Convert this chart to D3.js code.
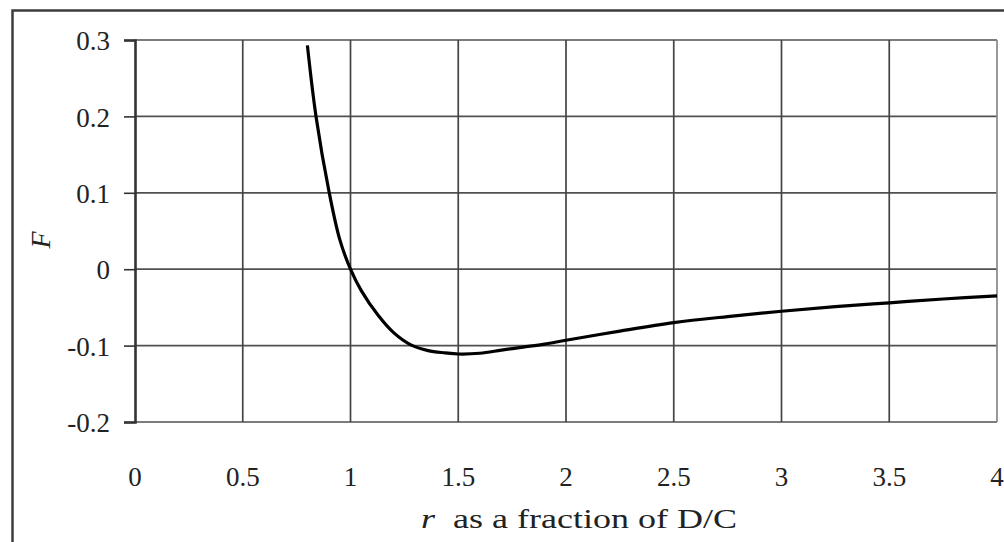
<!DOCTYPE html>
<html>
<head>
<meta charset="utf-8">
<script src="https://cdn.jsdelivr.net/npm/d3@7"></script>
<style>
  body { margin: 0; background: #fff; }
  svg { display: block; }
  text { font-family: "Liberation Serif", "Times New Roman", serif; fill: #222; }
</style>
</head>
<body>
<div id="chart"></div>
<script>
// Curve (r as a fraction of D/C, F)
const rValues = [0.8, 0.84, 0.9, 0.95, 1.0, 1.05, 1.13, 1.2, 1.28, 1.36, 1.44, 1.5, 1.6, 1.7, 1.8, 1.9, 2.0, 2.25, 2.5, 2.75, 3.0, 3.25, 3.5, 3.75, 4.0];
const fValues = [0.293, 0.2, 0.102, 0.039, 0, -0.028, -0.061, -0.083, -0.099, -0.1065, -0.1095, -0.111, -0.110, -0.106, -0.102, -0.098, -0.093, -0.081, -0.070, -0.062, -0.055, -0.049, -0.044, -0.039, -0.035];

const xTicks = [0, 0.5, 1, 1.5, 2, 2.5, 3, 3.5, 4];
const yTicks = [-0.2, -0.1, 0, 0.1, 0.2, 0.3];

const W = 1004, H = 542;
const PLOT_L = 135, PLOT_R = 997, PLOT_T = 40, PLOT_B = 422;

const svg = d3.select('#chart').append('svg')
  .attr('width', W).attr('height', H);

// Outer frame (cut off at the right and bottom)
svg.append('rect')
  .attr('x', 12.5).attr('y', 10.5)
  .attr('width', 1010).attr('height', 550)
  .attr('fill', 'none')
  .attr('stroke', '#3c3c3c')
  .attr('stroke-width', 2.5);

const x = d3.scaleLinear().domain([0, 4]).range([PLOT_L, PLOT_R]);
const y = d3.scaleLinear().domain([-0.2, 0.3]).range([PLOT_B, PLOT_T]);

// Gridlines
const grid = svg.append('g').attr('class', 'grid');
grid.selectAll('line.h').data(yTicks).enter().append('line')
  .attr('class', 'h')
  .attr('x1', PLOT_L).attr('x2', PLOT_R)
  .attr('y1', d => y(d)).attr('y2', d => y(d))
  .attr('stroke', '#505050').attr('stroke-width', 1.7);

grid.selectAll('line.v').data(xTicks.filter(d => d > 0)).enter().append('line')
  .attr('class', 'v')
  .attr('x1', d => x(d)).attr('x2', d => x(d))
  .attr('y1', PLOT_T).attr('y2', PLOT_B)
  .attr('stroke', d => d === 4 ? '#888' : '#444')
  .attr('stroke-width', 1.7);

// Left axis with outward ticks
svg.append('g')
  .attr('transform', `translate(${PLOT_L},0)`)
  .call(d3.axisLeft(y).tickValues(yTicks).tickSize(11).tickPadding(14)
    .tickFormat(d => d3.format('.1f')(d).replace('.0', '').replace('−', '-')))
  .call(g => g.select('.domain').attr('stroke', '#333').attr('stroke-width', 2.6))
  .call(g => g.selectAll('.tick line').attr('stroke', '#333').attr('stroke-width', 1.6))
  .call(g => g.selectAll('.tick text')
    .attr('font-size', 27)
    .attr('font-family', '"Liberation Serif", serif')
    .attr('fill', '#222')
    .attr('dy', '0.36em'));

// X tick labels below the plot
svg.append('g').selectAll('text').data(xTicks).enter().append('text')
  .attr('x', d => x(d))
  .attr('y', 486)
  .attr('text-anchor', 'middle')
  .attr('font-size', 27)
  .text(d => d);

// Curve
const line = d3.line()
  .x((d, i) => x(rValues[i]))
  .y(d => y(d))
  .curve(d3.curveCatmullRom.alpha(0.5));

svg.append('path')
  .datum(fValues)
  .attr('d', line)
  .attr('fill', 'none')
  .attr('stroke', '#000')
  .attr('stroke-width', 3.2)
  .attr('stroke-linejoin', 'round');

// Axis titles
const xt = svg.append('text')
  .attr('x', 579).attr('y', 528)
  .attr('text-anchor', 'middle')
  .attr('font-size', 28)
  .attr('textLength', 316)
  .attr('lengthAdjust', 'spacingAndGlyphs');
xt.append('tspan').attr('font-style', 'italic').text('r');
xt.append('tspan').text('\u00a0 as a fraction of D/C');

svg.append('text')
  .attr('transform', 'translate(50,240) rotate(-90)')
  .attr('text-anchor', 'middle')
  .attr('font-size', 28)
  .attr('font-style', 'italic')
  .text('F');
</script>
</body>
</html>
